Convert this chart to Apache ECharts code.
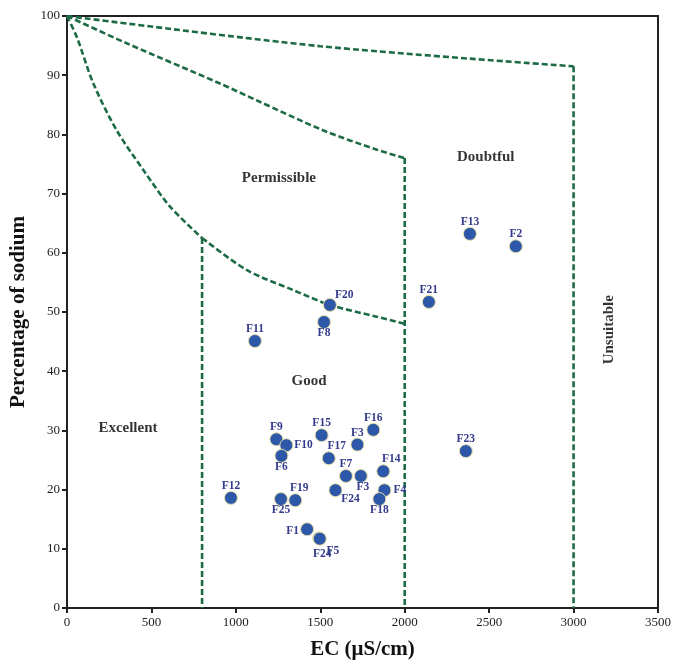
<!DOCTYPE html>
<html>
<head>
<meta charset="utf-8">
<script src="https://cdn.jsdelivr.net/npm/echarts@6/dist/echarts.min.js"></script>
<style>
  html, body { margin: 0; padding: 0; background: #fff; }
  #main { width: 674px; height: 665px; }
</style>
</head>
<body>
<div id="main"></div>
<script>
// sample points (EC in uS/cm, Na %)
var sampleNames = ['F12', 'F25', 'F19', 'F9', 'F10', 'F6', 'F15', 'F17', 'F3', 'F16', 'F7', 'F3', 'F24', 'F14', 'F4', 'F18', 'F1', 'F24', 'F5', 'F20', 'F8', 'F11', 'F21', 'F13', 'F2', 'F23'];
var sampleEC = [971, 1267, 1352, 1240, 1299, 1270, 1508, 1550, 1720, 1814, 1652, 1740, 1590, 1873, 1880, 1850, 1422, 1494, 1497, 1557, 1522, 1113, 2143, 2386, 2658, 2362];
var sampleNa = [18.6, 18.4, 18.2, 28.5, 27.5, 25.7, 29.2, 25.3, 27.6, 30.1, 22.3, 22.3, 19.9, 23.1, 19.9, 18.4, 13.3, 11.8, 11.7, 51.2, 48.3, 45.1, 51.7, 63.2, 61.1, 26.5];

// Wilcox boundaries
var curveExcellent = [[0, 100], [60, 96.3], [156, 88.6], [294, 80.7], [452, 74], [610, 67.8], [800, 62.5]];
var curvePermissible = [[0, 100], [353, 95.4], [906, 88.6], [1120, 85.8], [1516, 80.7], [1836, 77.4], [2000, 76]];
var curveDoubtful = [[0, 100], [1500, 94.9], [3000, 91.5]];
var curveGood = [[800, 62.5], [1064, 57.1], [1340, 53.7], [1557, 51.2], [1834, 49.2], [2000, 48]];
var line800 = [[800, 62.5], [800, 0]];
var line2000 = [[2000, 76], [2000, 0]];
var line3000 = [[3000, 91.5], [3000, 0]];

// zone names
var zoneNames = ['Permissible', 'Doubtful', 'Good', 'Excellent', 'Unsuitable'];
var zoneEC = [1255, 2480, 1433, 361, 3210];
var zoneNa = [72.6, 76.2, 38.3, 30.4, 47];

var xTicks = [0, 3500, 500];
var yTicks = [0, 100, 10];

(function () {
    var serif = '"Liberation Serif", "DejaVu Serif", serif';
    var green = '#1d6b45';

    // label placement per sample index: [position, dx, dy]
    var labelPlace = {
        4: ['right', 0, 0], 5: ['bottom', 0, -3], 7: ['top', 8, 2], 11: ['bottom', 2, -3],
        12: ['bottom', 15, -5], 13: ['top', 8, 2], 14: ['right', 1, 0], 15: ['bottom', 0, -3],
        16: ['left', 0, 2], 17: ['bottom', 3, 2], 18: ['bottom', 13, -2], 19: ['right', -3, -10],
        20: ['bottom', 0, -3], 1: ['bottom', 0, -3], 2: ['top', 4, 2]
    };

    var points = [];
    for (var i = 0; i < sampleNames.length; i++) {
        var p = labelPlace[i] || ['top', 0, 2];
        points.push({
            name: sampleNames[i],
            value: [sampleEC[i], sampleNa[i]],
            label: { position: p[0] }
        });
    }

    var zones = [];
    for (var j = 0; j < zoneNames.length; j++) {
        zones.push({
            name: zoneNames[j],
            value: [zoneEC[j], zoneNa[j]],
            label: { rotate: zoneNames[j] === 'Unsuitable' ? 90 : 0 }
        });
    }

    function dashed(data, smooth) {
        return {
            type: 'line',
            data: data,
            symbol: 'none',
            smooth: smooth ? 0.3 : false,
            silent: true,
            z: 1,
            lineStyle: { color: green, width: 2.6, type: [6, 3] }
        };
    }

    function plain(v) {
        return String(v);
    }

    var chart = echarts.init(document.getElementById('main'));
    var option = {
        backgroundColor: '#fff',
        animation: false,
        grid: {
            left: 67, right: 16, top: 16, bottom: 57,
            show: true, borderColor: '#222', borderWidth: 2, backgroundColor: 'transparent'
        },
        xAxis: {
            type: 'value',
            min: xTicks[0], max: xTicks[1], interval: xTicks[2],
            name: 'EC (μS/cm)',
            nameLocation: 'middle',
            nameGap: 31,
            nameTextStyle: { fontFamily: serif, fontWeight: 'bold', fontSize: 21, color: '#111' },
            axisLine: { lineStyle: { color: '#222', width: 2 } },
            axisTick: { show: true, length: 5, lineStyle: { color: '#222', width: 2 } },
            axisLabel: { fontFamily: serif, fontSize: 13, color: '#222', margin: 8, formatter: plain },
            splitLine: { show: false }
        },
        yAxis: {
            type: 'value',
            min: yTicks[0], max: yTicks[1], interval: yTicks[2],
            name: 'Percentage of sodium',
            nameLocation: 'middle',
            nameGap: 38,
            nameTextStyle: { fontFamily: serif, fontWeight: 'bold', fontSize: 21, color: '#111' },
            axisLine: { lineStyle: { color: '#222', width: 2 } },
            axisTick: { show: true, length: 5, lineStyle: { color: '#222', width: 2 } },
            axisLabel: { fontFamily: serif, fontSize: 13, color: '#222', margin: 7, formatter: plain },
            splitLine: { show: false }
        },
        series: [
            dashed(curveExcellent, true),
            dashed(curvePermissible, true),
            dashed(curveDoubtful, true),
            dashed(curveGood, true),
            dashed(line800, false),
            dashed(line2000, false),
            dashed(line3000, false),
            {
                type: 'scatter',
                data: zones,
                symbolSize: 0,
                silent: true,
                label: {
                    show: true,
                    position: 'inside',
                    formatter: '{b}',
                    fontFamily: serif, fontWeight: 'bold', fontSize: 15, color: '#000'
                }
            },
            {
                type: 'scatter',
                data: points,
                symbolSize: 13,
                z: 3,
                itemStyle: { color: '#2d57a8', borderColor: '#e6dfa6', borderWidth: 1, opacity: 1 },
                label: {
                    show: true,
                    formatter: '{b}',
                    distance: 1,
                    fontFamily: serif, fontWeight: 'bold', fontSize: 11.5, color: '#353b8c'
                },
                labelLayout: function (params) {
                    var p = labelPlace[params.dataIndex] || ['top', 0, 2];
                    return { dx: p[1], dy: p[2], hideOverlap: false };
                }
            }
        ]
    };
    chart.setOption(option);
})();
</script>
</body>
</html>
